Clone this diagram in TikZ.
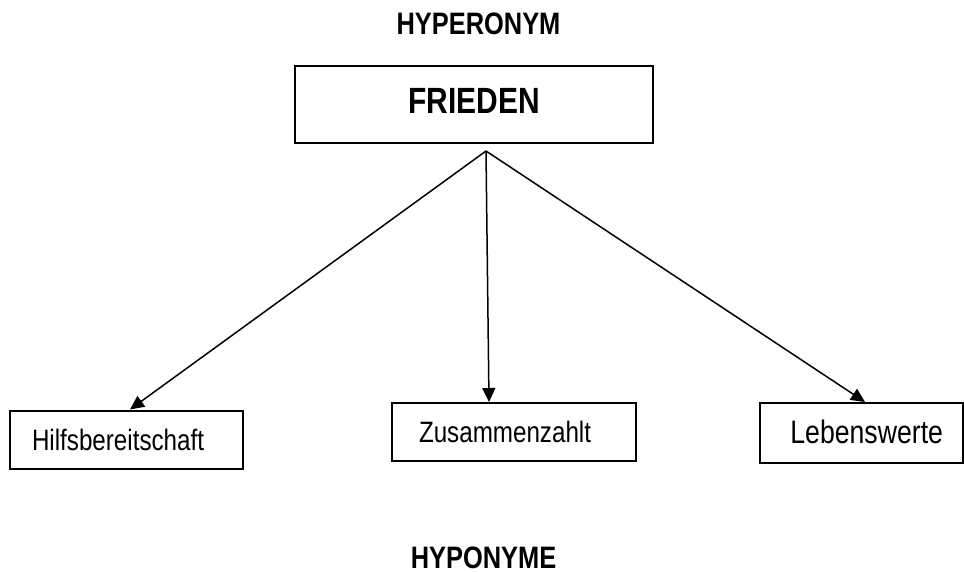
\documentclass[tikz,border=0pt]{standalone}
\usepackage{fontspec}
\setmainfont[FakeStretch=0.82]{Liberation Sans}
\usepackage{tikz}
\usetikzlibrary{arrows.meta,positioning}

\begin{document}
\begin{tikzpicture}[
    x=1pt, y=-1pt,
    headline/.style={inner sep=0pt, font=\fontsize{31}{34}\selectfont\bfseries},
    topbox/.style={rectangle, draw, line width=2pt, minimum width=358pt, minimum height=77pt, text height=26pt, text depth=9pt, inner sep=0pt, font=\fontsize{36.5}{40}\selectfont\bfseries},
    wordbox/.style={rectangle, draw, line width=2pt, minimum height=58pt, text height=22pt, text depth=1pt, inner sep=0pt, font=\fontsize{29.5}{32}\selectfont},
    arrow/.style={-{Triangle[length=14pt,width=13pt]}, line width=1.5pt}
]
\useasboundingbox (0,0) rectangle (964,571);

% Titles
\node[headline] (hyper) at (478.5,24) {HYPERONYM};
\node[headline] (hypo) at (483.5,558) {HYPONYME};

% Hyperonym
\node[topbox] (frieden) at (474,104.5) {FRIEDEN};
\coordinate (root) at (486,151);

% Hyponyms
\node[wordbox, minimum width=233pt, text width=189pt, align=left] (hilfe) at (126.5,439.5) {Hilfsbereitschaft};
\node[wordbox, minimum width=244pt, text width=190pt, align=left] (zusammen) at (514,432) {Zusammenzahlt};
\node[wordbox, minimum width=203pt, minimum height=60pt, text width=163pt, align=right, font=\fontsize{32.5}{35}\selectfont] (leben) at (861.5,433) {Lebenswerte};

% Connections
\draw[arrow] (root) -- (hilfe.north -| 130,0);
\draw[arrow] (root) -- (zusammen.north -| 489,0);
\draw[arrow] (root) -- (leben.north -| 865,0);

\end{tikzpicture}
\end{document}
